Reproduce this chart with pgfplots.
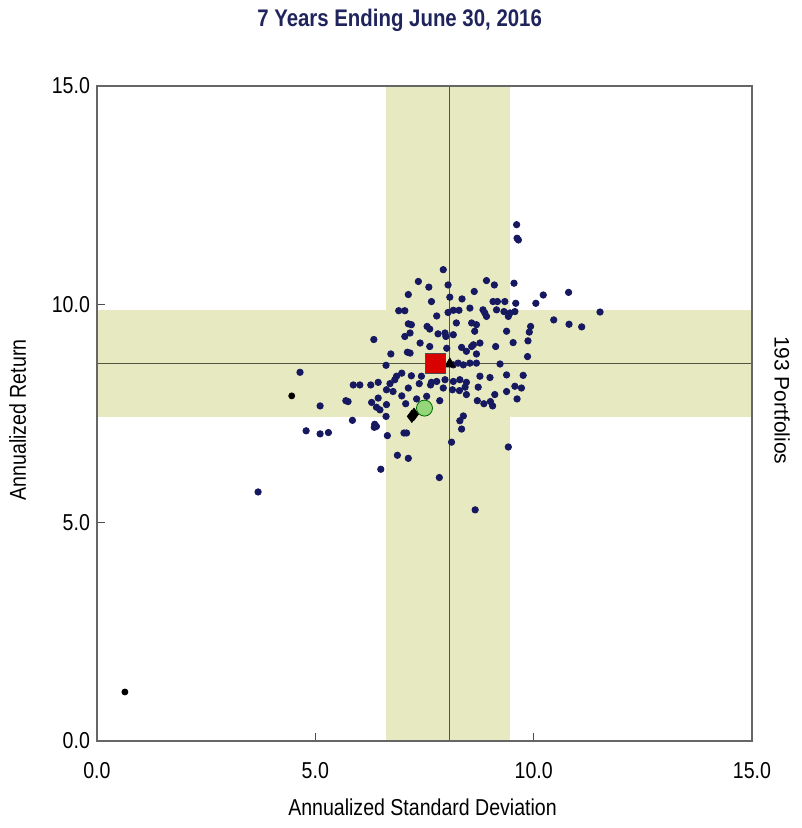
\documentclass[border=0pt]{standalone}
\usepackage{fontspec}
\setmainfont[FakeStretch=0.85]{Liberation Sans}
\newfontfamily\plainsans{Liberation Sans}
\usepackage{pgfplots}
\pgfplotsset{compat=1.18}
\definecolor{band}{RGB}{231,233,193}
\definecolor{navy}{RGB}{22,24,96}
\definecolor{ttl}{RGB}{32,36,92}
\definecolor{cross}{RGB}{85,85,70}
\definecolor{mgrn}{RGB}{150,214,122}

\pgfplotstableread{
x y
9.61 11.82
9.62 11.51
9.65 11.47
7.93 10.79
7.36 10.52
7.60 10.39
8.04 10.44
8.92 10.54
9.10 10.44
9.55 10.48
7.13 10.22
7.66 10.06
8.08 10.16
8.36 10.12
8.64 10.29
10.22 10.21
10.80 10.27
6.91 9.85
7.05 9.85
7.78 9.73
8.04 9.81
8.16 9.86
8.29 9.86
8.54 9.91
8.84 9.87
9.07 10.06
9.17 10.06
9.34 10.06
9.59 10.02
10.05 10.02
11.52 9.82
8.88 9.80
8.92 9.72
9.15 9.87
9.32 9.83
9.46 9.80
9.42 9.72
9.57 9.83
7.13 9.55
7.20 9.53
7.56 9.49
7.62 9.43
7.81 9.32
7.97 9.34
7.99 9.26
8.16 9.30
8.23 9.57
8.58 9.57
8.69 9.53
8.65 9.38
9.38 9.38
9.93 9.49
9.90 9.36
10.46 9.64
10.81 9.54
11.10 9.48
6.34 9.19
7.05 9.26
7.17 9.34
7.40 9.11
7.62 9.03
8.01 8.99
8.35 9.01
8.58 9.03
8.62 9.07
8.77 9.11
8.46 8.92
8.69 8.86
9.13 9.03
9.53 9.12
9.87 9.16
6.73 8.86
7.11 8.90
7.17 8.88
9.86 8.80
6.62 8.60
8.16 8.61
8.27 8.65
8.39 8.61
8.54 8.65
8.69 8.65
9.23 8.63
4.65 8.44
6.86 8.35
6.98 8.42
6.82 8.27
7.20 8.36
7.43 8.35
7.66 8.21
7.78 8.23
7.97 8.27
8.16 8.23
8.31 8.27
8.46 8.21
8.77 8.35
9.00 8.32
9.38 8.38
9.76 8.37
5.87 8.15
6.02 8.15
6.27 8.15
6.44 8.21
6.71 8.18
6.63 8.04
7.13 8.08
7.38 8.18
7.64 8.15
7.93 8.08
8.14 8.04
8.30 8.02
8.43 8.10
8.73 8.10
9.11 7.93
9.38 8.00
9.57 8.12
9.72 8.08
5.11 7.67
5.70 7.79
5.75 7.77
6.29 7.75
6.44 7.85
6.40 7.64
6.48 7.58
6.63 7.70
6.78 8.00
6.98 7.90
7.07 7.72
7.32 7.83
7.55 7.89
7.85 7.79
8.46 7.93
8.71 7.79
8.86 7.72
9.01 7.77
9.06 7.67
9.62 7.83
5.85 7.34
6.36 7.25
6.40 7.20
6.35 7.18
6.62 7.43
7.03 7.05
7.09 7.05
8.31 7.33
8.39 7.44
8.35 7.14
4.79 7.10
5.11 7.03
5.30 7.06
6.65 6.99
6.88 6.54
7.13 6.47
8.12 6.84
9.42 6.73
6.50 6.22
7.84 6.03
8.66 5.29
3.69 5.70
}\portfolios

\begin{document}
\begin{tikzpicture}
\begin{axis}[
  scale only axis,
  width=327.5pt, height=327.5pt,
  xmin=0, xmax=15, ymin=0, ymax=15,
  xtick={0,5,10,15}, ytick={0,5,10,15},
  xtick pos=left, ytick pos=left,
  tick align=inside,
  major tick length=4pt,
  tick style={black!70, line width=0.6pt},
  axis line style={black!60, line width=0.8pt},
  axis on top,
  clip mode=individual,
  tick label style={font=\fontsize{11.5}{13}\selectfont, text=black},
  xticklabel style={yshift=-7pt},
  /pgf/number format/.cd, fixed, fixed zerofill, precision=1, assume math mode=true,
]
% bands
\addplot[fill=band, draw=none] coordinates {(6.63,0) (9.46,0) (9.46,15) (6.63,15)} -- cycle;
\addplot[fill=band, draw=none] coordinates {(0,7.42) (15,7.42) (15,9.87) (0,9.87)} -- cycle;
% cross lines
\addplot[cross, line width=0.6pt] coordinates {(8.08,0) (8.08,15)};
\addplot[cross, line width=0.6pt] coordinates {(0,8.65) (15,8.65)};
% portfolios
\addplot[only marks, mark=*, mark size=1.6pt, navy, mark options={fill=navy, draw=navy}] table {\portfolios};
\addplot[only marks, mark=*, mark size=1.5pt, mark options={fill=black, draw=black}] coordinates {(4.46,7.90) (0.64,1.12)};
% markers
\addplot[only marks, mark=diamond*, mark size=3pt, mark options={fill=black, draw=black}] coordinates {(7.21,7.43) (7.26,7.48)};
\addplot[only marks, mark=triangle*, mark size=3pt, mark options={fill=black, draw=black}] coordinates {(8.08,8.63)};
\addplot[only marks, mark=square*, mark size=5pt, mark options={fill=red!85!black, draw=black!70}] coordinates {(7.74,8.65)};
\addplot[only marks, mark=*, mark size=4pt, mark options={fill=mgrn, draw=green!40!black}] coordinates {(7.50,7.62)};

\node[font=\fontsize{12}{14}\selectfont\bfseries, text=ttl] at (rel axis cs:0.462,1.100) {7 Years Ending June 30, 2016};
\node[font=\fontsize{11.5}{13}\selectfont] at (rel axis cs:0.497,-0.102) {Annualized Standard Deviation};
\node[font=\fontsize{11.5}{13}\selectfont, rotate=90] at (rel axis cs:-0.121,0.49) {Annualized Return};
\node[font=\plainsans\fontsize{10.5}{12}\selectfont, rotate=-90] at (rel axis cs:1.046,0.52) {193 Portfolios};
\coordinate (bl) at (rel axis cs:-0.148,-0.133);
\coordinate (tr) at (rel axis cs:1.076,1.131);
\end{axis}
\pgfresetboundingbox
\path (bl) rectangle (tr);
\end{tikzpicture}
\end{document}
